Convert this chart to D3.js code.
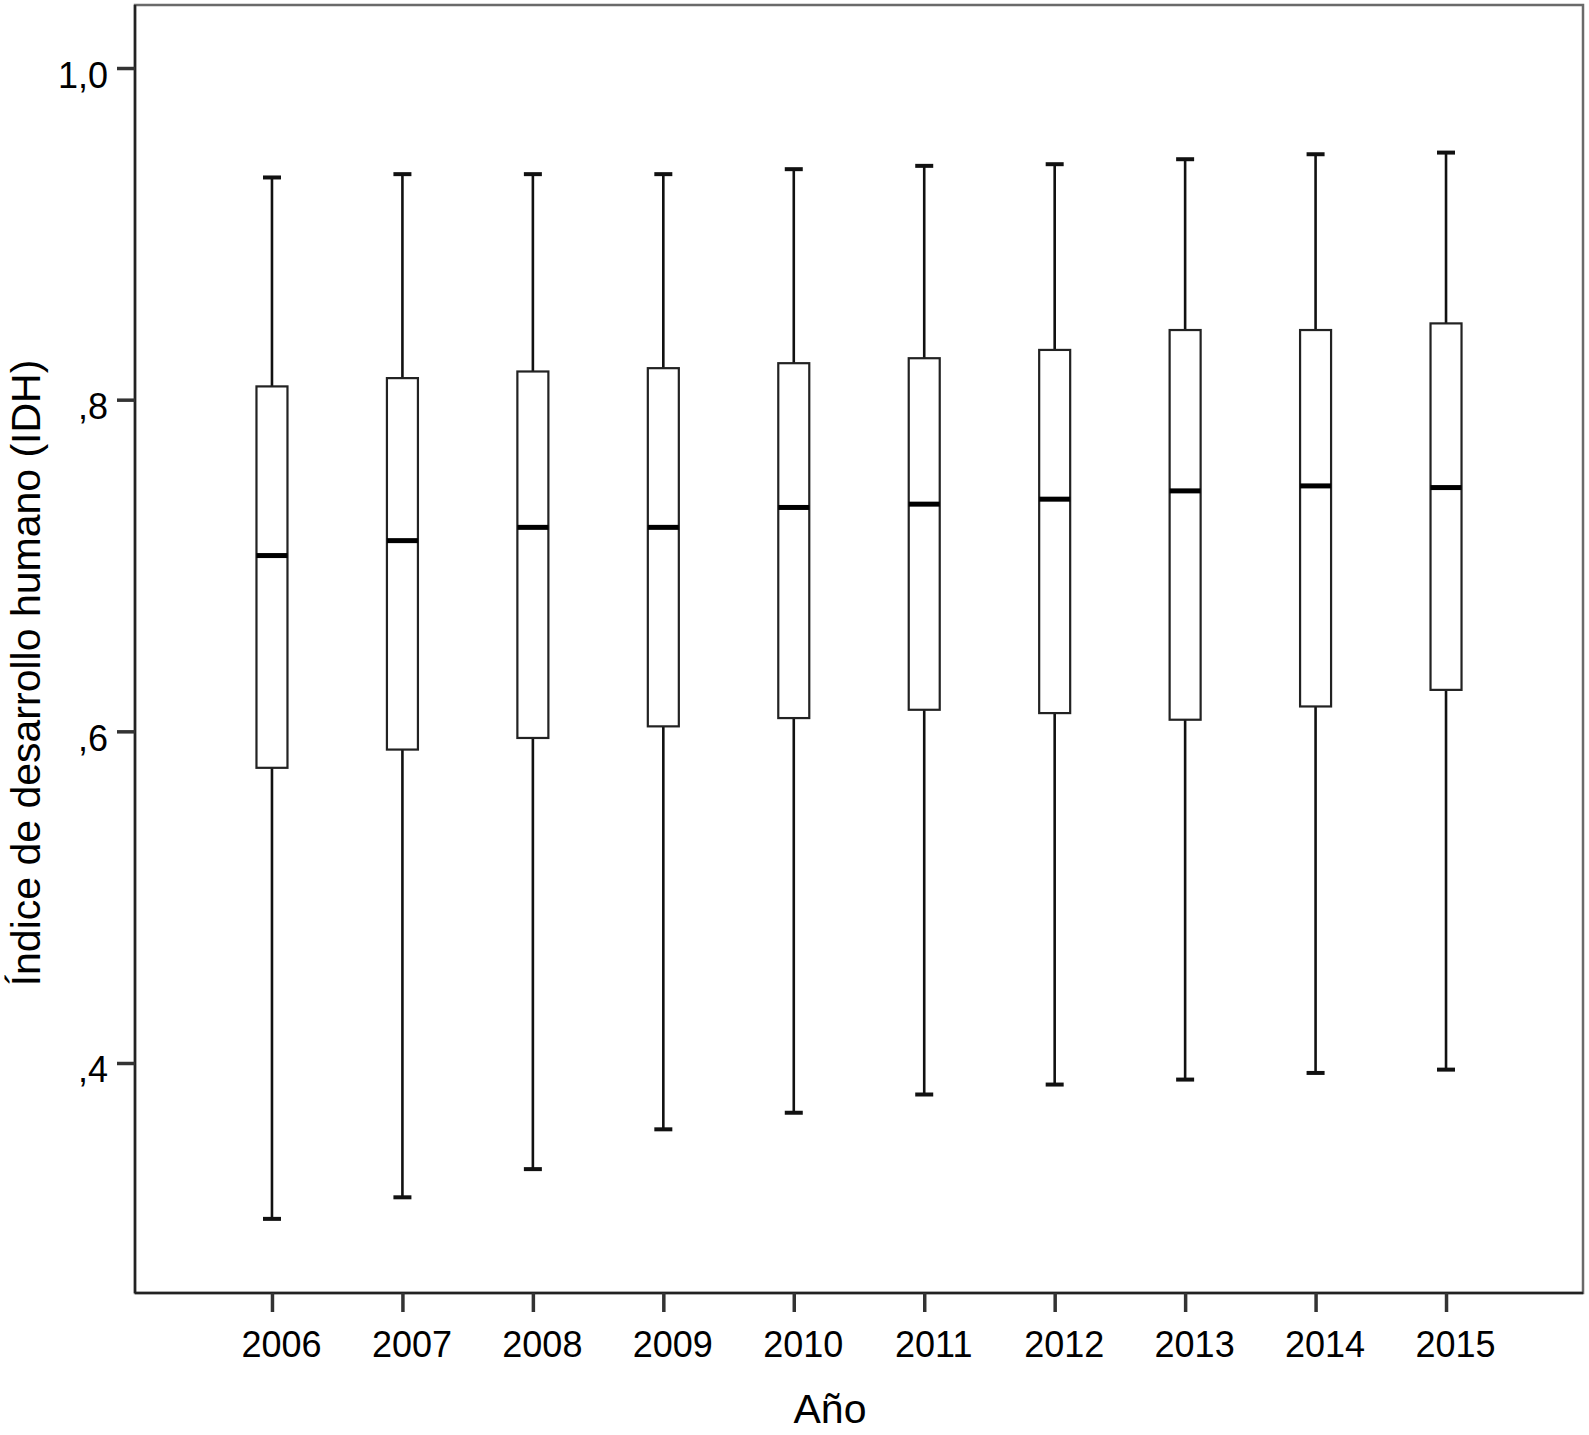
<!DOCTYPE html>
<html>
<head>
<meta charset="utf-8">
<script src="https://cdn.jsdelivr.net/npm/d3@7"></script>
<style>
  html, body { margin: 0; padding: 0; background: #fff; }
  svg { display: block; }
  text { font-family: "Liberation Sans", Arial, Helvetica, sans-serif; fill: #000; }
</style>
</head>
<body>
<svg id="chart" width="1589" height="1435"></svg>
<script>
// ---- Data ----
const years = ["2006","2007","2008","2009","2010","2011","2012","2013","2014","2015"];
const whiskerLow  = [0.306, 0.319, 0.336, 0.360, 0.370, 0.381, 0.387, 0.390, 0.394, 0.396];
const q1          = [0.578, 0.589, 0.596, 0.603, 0.608, 0.613, 0.611, 0.607, 0.615, 0.625];
const median      = [0.706, 0.715, 0.723, 0.723, 0.735, 0.737, 0.740, 0.745, 0.748, 0.747];
const q3          = [0.808, 0.813, 0.817, 0.819, 0.822, 0.825, 0.830, 0.842, 0.842, 0.846];
const whiskerHigh = [0.934, 0.936, 0.936, 0.936, 0.939, 0.941, 0.942, 0.945, 0.948, 0.949];
const yTickValues = [0.4, 0.6, 0.8, 1.0];
const yTickLabels = [",4", ",6", ",8", "1,0"];
const xTitle = "Año";
const yTitle = "Índice de desarrollo humano (IDH)";

(function () {
  // ---- Layout ----
  const svg = d3.select("#chart");
  const pLeft = 135, pRight = 1583, pTop = 5, pBottom = 1293;

  const x = d3.scalePoint().domain(years).range([pLeft, pRight]).padding(1.05);
  const y = d3.scaleLinear().domain([0.2613, 1.038]).range([pBottom, pTop]);

  const boxes = years.map((yr, i) => ({
    year: yr, lo: whiskerLow[i], q1: q1[i], med: median[i], q3: q3[i], hi: whiskerHigh[i]
  }));

  // Frame (top/right lighter)
  svg.append("rect")
    .attr("x", pLeft).attr("y", pTop)
    .attr("width", pRight - pLeft).attr("height", pBottom - pTop)
    .attr("fill", "none").attr("stroke", "#6a6a6a").attr("stroke-width", 2.5);

  // Y axis
  const yAxis = d3.axisLeft(y)
    .tickValues(yTickValues)
    .tickFormat((d, i) => yTickLabels[i])
    .tickSize(18).tickPadding(9);
  const gy = svg.append("g").attr("transform", `translate(${pLeft},0)`).call(yAxis);
  gy.select(".domain").attr("d", `M0,${pTop}V${pBottom}`).attr("stroke", "#222").attr("stroke-width", 2.5);
  gy.selectAll(".tick line").attr("stroke", "#333").attr("stroke-width", 3.5);
  gy.selectAll(".tick text")
    .attr("dy", "19px")
    .style("font-size", "36px")
    .style("font-family", "'Liberation Sans', Arial, Helvetica, sans-serif")
    .attr("fill", "#000");

  // X axis
  const xAxis = d3.axisBottom(x).tickSize(19).tickSizeOuter(0);
  const gx = svg.append("g").attr("transform", `translate(0,${pBottom})`).call(xAxis);
  gx.select(".domain").attr("d", `M${pLeft},0H${pRight}`).attr("stroke", "#222").attr("stroke-width", 2.5);
  gx.selectAll(".tick line").attr("stroke", "#333").attr("stroke-width", 3.5);
  gx.selectAll(".tick text")
    .attr("y", 64).attr("dy", 0).attr("dx", 9)
    .style("font-size", "36px")
    .style("font-family", "'Liberation Sans', Arial, Helvetica, sans-serif")
    .attr("fill", "#000");

  // Boxplots
  const boxW = 31, capW = 18;
  const g = svg.append("g");
  const b = g.selectAll("g.box").data(boxes).enter().append("g").attr("class", "box");

  // whiskers
  b.append("line")
    .attr("x1", d => x(d.year)).attr("x2", d => x(d.year))
    .attr("y1", d => y(d.hi)).attr("y2", d => y(d.q3))
    .attr("stroke", "#111").attr("stroke-width", 2.6);
  b.append("line")
    .attr("x1", d => x(d.year)).attr("x2", d => x(d.year))
    .attr("y1", d => y(d.q1)).attr("y2", d => y(d.lo))
    .attr("stroke", "#111").attr("stroke-width", 2.6);
  // caps
  b.append("line")
    .attr("x1", d => x(d.year) - capW / 2).attr("x2", d => x(d.year) + capW / 2)
    .attr("y1", d => y(d.hi)).attr("y2", d => y(d.hi))
    .attr("stroke", "#111").attr("stroke-width", 4);
  b.append("line")
    .attr("x1", d => x(d.year) - capW / 2).attr("x2", d => x(d.year) + capW / 2)
    .attr("y1", d => y(d.lo)).attr("y2", d => y(d.lo))
    .attr("stroke", "#111").attr("stroke-width", 4);
  // box
  b.append("rect")
    .attr("x", d => x(d.year) - boxW / 2).attr("width", boxW)
    .attr("y", d => y(d.q3)).attr("height", d => y(d.q1) - y(d.q3))
    .attr("fill", "#fff").attr("stroke", "#222").attr("stroke-width", 2.2);
  // median
  b.append("line")
    .attr("x1", d => x(d.year) - boxW / 2).attr("x2", d => x(d.year) + boxW / 2)
    .attr("y1", d => y(d.med)).attr("y2", d => y(d.med))
    .attr("stroke", "#000").attr("stroke-width", 5);

  // Axis titles
  svg.append("text")
    .attr("x", 830).attr("y", 1423)
    .attr("text-anchor", "middle")
    .style("font-size", "41px")
    .text(xTitle);

  svg.append("text")
    .attr("transform", "translate(40,673) rotate(-90)")
    .attr("text-anchor", "middle")
    .style("font-size", "41px")
    .text(yTitle);
})();
</script>
</body>
</html>
